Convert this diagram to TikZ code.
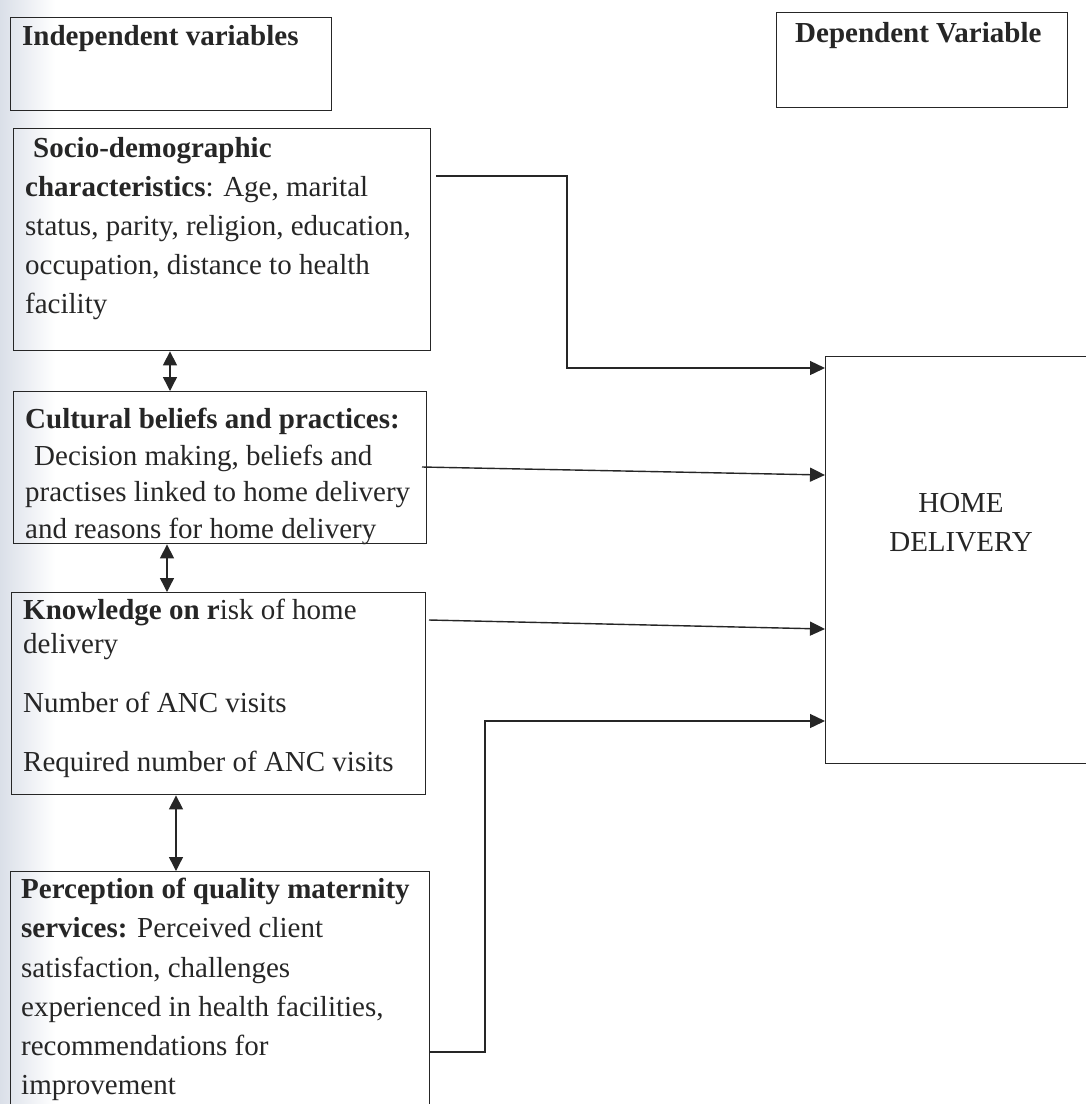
\documentclass[tikz,border=0pt]{standalone}
\usepackage{fontspec}
\setmainfont{Liberation Serif}
\usetikzlibrary{arrows.meta,calc}
\definecolor{ink}{RGB}{38,38,38}
\definecolor{scanedge}{RGB}{218,223,232}
\begin{document}
\begin{tikzpicture}[x=1pt,y=-1pt,
  boxshape/.style={draw=ink,line width=1.4pt,inner sep=0pt,anchor=north west},
  txt/.style={text=ink,inner sep=0pt,anchor=north west,align=left},
  arr/.style={draw=ink,line width=1.4pt,-{Triangle[length=15pt,width=14pt]}},
  dbl/.style={draw=ink,line width=1.4pt,{Triangle[length=14pt,width=14pt]}-{Triangle[length=14pt,width=14pt]}}
]
\useasboundingbox (0,0) rectangle (1086,1104);
\shade[left color=scanedge,right color=white] (0,0) rectangle (55,1104);

% boxes
\node[boxshape,minimum width=321pt,minimum height=93pt] (indep) at (10,17) {};
\node[boxshape,minimum width=291pt,minimum height=95pt] (dep) at (776,12) {};
\node[boxshape,minimum width=417pt,minimum height=222pt] (socio) at (13,128) {};
\node[boxshape,minimum width=413pt,minimum height=152pt] (cult) at (13,391) {};
\node[boxshape,minimum width=414pt,minimum height=202pt] (know) at (11,592) {};
\node[boxshape,minimum width=419pt,minimum height=245pt] (perc) at (10,871) {};
\node[boxshape,minimum width=272pt,minimum height=407pt] (home) at (825,356) {};

% texts
\node[txt,font={\fontsize{29}{39}\selectfont\bfseries}] (indept) at (22,25) {Independent variables};
\node[txt,font={\fontsize{29}{39}\selectfont\bfseries}] (dept) at (795,22) {Dependent Variable};
\node[txt,font={\fontsize{29}{39}\selectfont}] (sociot) at (25,137) {%
\hspace*{8pt}\textbf{Socio-demographic}\\
\textbf{characteristics}: Age, marital\\
status, parity, religion, education,\\
occupation, distance to health\\
facility};
\node[txt,font={\fontsize{29}{36.5}\selectfont}] (cultt) at (25,408) {%
\textbf{Cultural beliefs and practices:}\\
\hspace*{9pt}Decision making, beliefs and\\
practises linked to home delivery\\
and reasons for home delivery};
\node[txt,font={\fontsize{29}{34}\selectfont}] (knowt) at (23,599) {%
\textbf{Knowledge on r}isk of home\\
delivery\\[25pt]
Number of ANC visits\\[25pt]
Required number of ANC visits};
\node[txt,font={\fontsize{29}{39.2}\selectfont}] (perct) at (21,878) {%
\textbf{Perception of quality maternity}\\
\textbf{services:} Perceived client\\
satisfaction, challenges\\
experienced in health facilities,\\
recommendations for\\
improvement};
\node[text=ink,inner sep=0pt,anchor=north,align=center,font={\fontsize{29}{39}\selectfont}] (homet) at (961,493) {HOME\\DELIVERY};

% double arrows between independent boxes
\draw[dbl] ([xshift=157pt]socio.south west) -- ([xshift=157pt]socio.south west |- cult.north);
\draw[dbl] ([xshift=154pt]cult.south west) -- ([xshift=154pt]cult.south west |- know.north);
\draw[dbl] ([xshift=165pt]know.south west) -- ([xshift=165pt]know.south west |- perc.north);

% connectors to HOME DELIVERY
\coordinate (s1) at (436,176);
\coordinate (b1) at (567,368);
\draw[arr] (s1) -| (b1) -- (b1 -| home.west);
\coordinate (s2) at (422,467);
\coordinate (e2) at (825,475);
\draw[arr] (s2) -- (e2 -| home.west);
\coordinate (s3) at (429,620);
\coordinate (e3) at (825,629);
\draw[arr] (s3) -- (e3 -| home.west);
\coordinate (b4) at (485,721);
\draw[arr] (perc.east |- 0,1052) -| (b4) -- (b4 -| home.west);
\end{tikzpicture}
\end{document}
